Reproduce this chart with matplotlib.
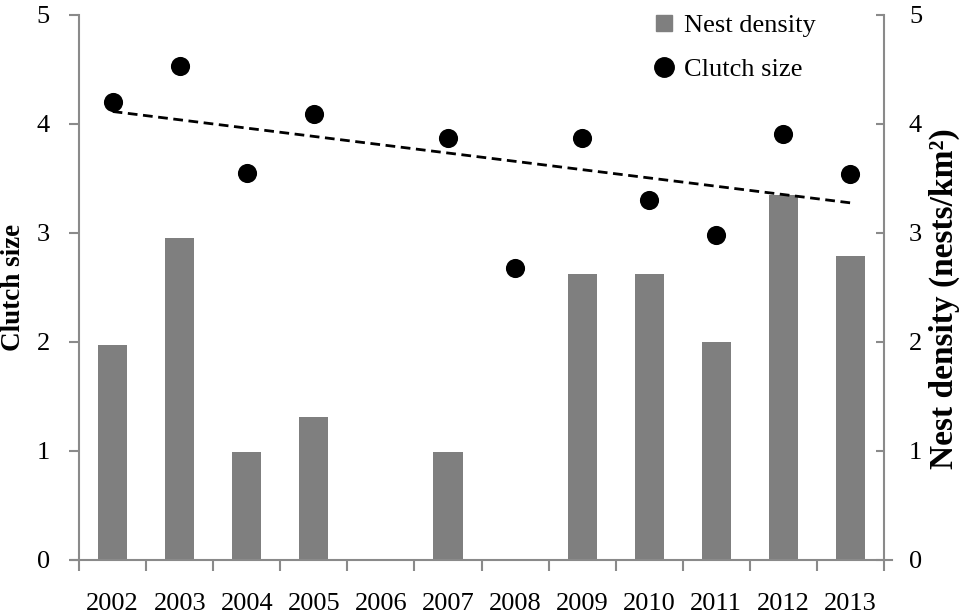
import numpy as np
import matplotlib
matplotlib.use("Agg")
import matplotlib.pyplot as plt
from matplotlib.lines import Line2D

years = ["2002", "2003", "2004", "2005", "2006", "2007", "2008", "2009", "2010", "2011", "2012", "2013"]
nest_density = [1.97, 2.95, 0.99, 1.31, 0.0, 0.99, 0.0, 2.62, 2.62, 2.00, 3.35, 2.79]
clutch_size = [4.20, 4.53, 3.55, 4.09, np.nan, 3.87, 2.68, 3.87, 3.30, 2.98, 3.91, 3.54]

plt.rcParams['font.family'] = ['Liberation Serif', 'DejaVu Serif']

fig = plt.figure(figsize=(9.65, 6.16), dpi=100)
ax1 = fig.add_axes([0.082, 0.091, 0.834, 0.885])
ax2 = ax1.twinx()

x = np.arange(len(years))
bar_color = "#7f7f7f"
spine_color = "#8a8a8a"

ax2.bar(x, nest_density, width=0.435, color=bar_color, zorder=1)

cs = np.array(clutch_size, dtype=float)
ok = ~np.isnan(cs)
ax1.scatter(x[ok], cs[ok], s=190, color="black", zorder=5, linewidths=0)
coef = np.polyfit(x[ok], cs[ok], 1)
xt = np.array([x[0], x[-1]])
ax1.plot(xt, np.polyval(coef, xt), color="black", linestyle=(0, (3.5, 2)), linewidth=2, zorder=4)

ax1.set_zorder(ax2.get_zorder() + 1)
ax1.patch.set_visible(False)

for ax in (ax1, ax2):
    ax.set_ylim(0, 5)
    ax.set_xlim(-0.5, len(years) - 0.5)
    ax.set_yticks([0, 1, 2, 3, 4, 5])
    for s in ax.spines.values():
        s.set_color(spine_color)
        s.set_linewidth(1.5)
    ax.spines['top'].set_visible(False)

ax1.spines['right'].set_visible(False)
ax2.spines['left'].set_visible(False)
ax2.spines['bottom'].set_visible(False)
ax1.spines['bottom'].set_bounds(-0.62, len(years) - 0.38)

ax1.set_xticks(x)
ax1.set_xticklabels(years)
ax1.set_xticks(np.arange(-0.5, len(years), 1.0), minor=True)
ax1.tick_params(axis='x', which='major', length=0, labelsize=19, pad=24)
ax1.tick_params(axis='x', which='minor', length=8, width=1.5, color=spine_color, direction='out')
ax1.tick_params(axis='y', length=7, width=1.5, color=spine_color, direction='out', labelsize=19, pad=14)
ax2.tick_params(axis='y', length=6, width=1.5, color=spine_color, direction='in', labelsize=19, pad=18)

ax1.set_ylabel("Clutch size", fontsize=19.5, fontweight='bold', labelpad=8)
ax2.set_ylabel("Nest density (nests/km²)", fontsize=24, fontweight='bold', labelpad=6)
ax2.yaxis.set_label_coords(1.056, 0.479)

handles = [
    Line2D([], [], marker='s', linestyle='none', color=bar_color, markersize=12),
    Line2D([], [], marker='o', linestyle='none', color='black', markersize=14),
]
ax1.legend(handles, ["Nest density", "Clutch size"], loc='upper right', bbox_to_anchor=(0.945, 1.045),
           frameon=False, fontsize=19, handletextpad=0.25, labelspacing=0.75, handlelength=1.0)

fig.savefig("out.png", dpi=100)
